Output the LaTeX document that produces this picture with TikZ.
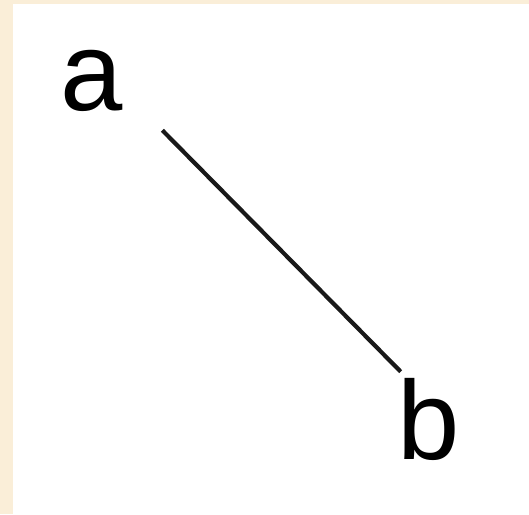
\documentclass[tikz,border=0pt]{standalone}
\usepackage{fontspec}
\setmainfont{Liberation Sans}
\definecolor{frame}{RGB}{250,238,216}
\begin{document}
\begin{tikzpicture}[x=1pt,y=-1pt,
  lbl/.style={inner sep=0pt,anchor=base,font=\fontsize{112}{112}\selectfont},
  edge/.style={line width=4.2pt,black!90}]
\useasboundingbox (0,0) rectangle (529,514);
\fill[frame] (0,0) rectangle (529,514);
\fill[white] (13,4) rectangle (529,514);
\node[lbl] (a) at (92,110) {a};
\node[lbl] (b) at (429,459) {b};
\coordinate (s) at ([shift={(39pt,-19pt)}]a.south east);
\coordinate (e) at ([shift={(3pt,6pt)}]b.north west);
\draw[edge] (s) -- (e);
\end{tikzpicture}
\end{document}
